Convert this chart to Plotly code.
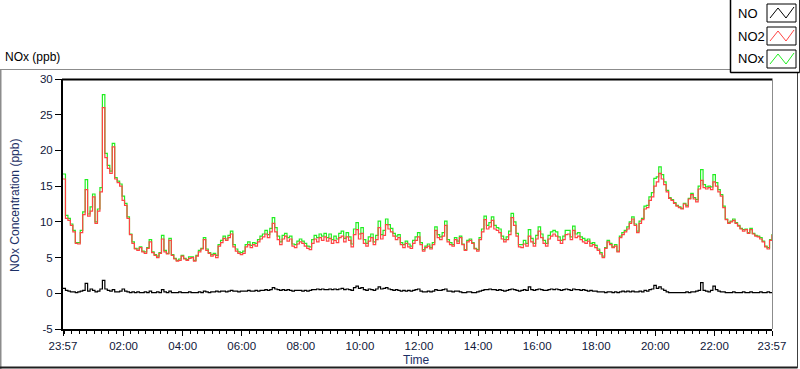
import plotly.graph_objects as go
import pandas as pd

# ---------------- data (5-minute readings starting 23:57) ----------------
start_time = "2024-01-01 23:57"
step_minutes = 5

no = [
    0.7, 0.4, 0.3, 0.2, 0.2, 0.1, 0.2, 0.3, 0.4, 1.4,
    0.3, 0.6, 0.4, 0.2, 0.3, 0.6, 1.8, 0.6, 0.4, 0.3,
    0.5, 0.2, 0.2, 0.3, 0.6, 0.3, 0.2, 0.1, 0.2, 0.1,
    0.2, 0.1, 0.1, 0.2, 0.1, 0.3, 0.1, 0.1, 0.2, 0.1,
    0.5, 0.2, 0.1, 0.3, 0.1, 0.1, 0.1, 0.2, 0.1, 0.1,
    0.1, 0.2, 0.1, 0.1, 0.1, 0.2, 0.1, 0.3, 0.2, 0.1,
    0.2, 0.2, 0.3, 0.2, 0.3, 0.3, 0.2, 0.3, 0.4, 0.3,
    0.3, 0.2, 0.3, 0.3, 0.3, 0.4, 0.3, 0.3, 0.4, 0.3,
    0.4, 0.4, 0.5, 0.4, 0.5, 0.8, 0.6, 0.5, 0.4, 0.5,
    0.4, 0.5, 0.4, 0.3, 0.4, 0.4, 0.4, 0.3, 0.4, 0.3,
    0.4, 0.5, 0.5, 0.6, 0.5, 0.6, 0.5, 0.5, 0.6, 0.5,
    0.6, 0.5, 0.6, 0.7, 0.5, 0.6, 0.5, 0.4, 0.8, 1.0,
    0.7, 0.8, 0.5, 0.4, 0.6, 0.5, 0.4, 0.6, 0.9, 0.6,
    0.7, 0.8, 0.6, 0.5, 0.4, 0.5, 0.4, 0.3, 0.4, 0.3,
    0.4, 0.3, 0.4, 0.5, 0.6, 0.3, 0.2, 0.2, 0.3, 0.2,
    0.3, 0.5, 0.4, 0.4, 0.5, 0.6, 0.3, 0.3, 0.2, 0.3,
    0.3, 0.2, 0.1, 0.1, 0.2, 0.2, 0.1, 0.1, 0.2, 0.3,
    0.4, 0.5, 0.5, 0.6, 0.5, 0.5, 0.4, 0.5, 0.4, 0.3,
    0.4, 0.5, 0.6, 0.5, 0.4, 0.3, 0.4, 0.5, 0.4, 0.9,
    0.5, 0.4, 0.5, 0.6, 0.5, 0.4, 0.4, 0.5, 0.6, 0.5,
    0.6, 0.5, 0.4, 0.5, 0.6, 0.5, 0.4, 0.6, 0.5, 0.5,
    0.4, 0.5, 0.4, 0.3, 0.4, 0.3, 0.3, 0.2, 0.2, 0.2,
    0.1, 0.2, 0.2, 0.1, 0.2, 0.1, 0.2, 0.3, 0.2, 0.3,
    0.2, 0.3, 0.2, 0.2, 0.3, 0.2, 0.4, 0.3, 0.5, 0.6,
    1.1, 0.7, 0.9, 0.6, 0.4, 0.2, 0.1, 0.1, 0.1, 0.1,
    0.1, 0.1, 0.1, 0.2, 0.1, 0.2, 0.2, 0.3, 0.4, 1.5,
    0.4, 0.3, 0.2, 0.4, 1.0, 0.5, 0.3, 0.2, 0.2, 0.1,
    0.1, 0.1, 0.2, 0.1, 0.1, 0.1, 0.2, 0.1, 0.1, 0.2,
    0.1, 0.1, 0.1, 0.2, 0.1, 0.1, 0.2, 0.1, 0.1,
]

no2 = [
    16.0, 10.5, 10.2, 9.5, 8.6, 7.0, 6.9, 8.5, 11.0, 14.5,
    10.8, 11.5, 13.5, 9.8, 11.5, 14.2, 26.0, 19.0, 17.5, 16.8,
    20.5, 16.0, 15.5, 15.0, 13.0, 12.3, 10.5, 8.2, 7.0, 6.2,
    6.0, 6.4, 5.8, 5.6, 6.3, 7.2, 5.7, 5.3, 5.0, 5.6,
    7.6, 5.8, 5.5, 7.4, 5.3, 4.8, 4.5, 4.6, 5.2, 4.8,
    4.6, 4.9, 5.0, 4.5, 5.2, 5.8, 6.2, 7.5, 6.0, 5.6,
    5.2, 5.4, 5.0, 6.6, 7.1, 7.7, 7.4, 7.8, 8.3, 6.5,
    5.9, 5.6, 5.4, 5.6, 6.5, 6.8, 6.4, 6.8, 6.6, 7.2,
    7.6, 7.9, 8.3, 7.8, 8.6, 9.8, 8.6, 7.5, 6.8, 7.6,
    8.0, 7.3, 7.6, 6.6, 6.4, 6.9, 7.2, 7.0, 6.6, 6.3,
    6.1, 7.0, 7.6, 7.2, 7.8, 7.4, 7.9, 7.3, 7.7, 7.0,
    7.4, 7.1, 7.8, 8.0, 7.2, 7.9, 7.4, 6.5, 8.2, 8.9,
    7.6, 8.4, 7.0, 6.6, 7.3, 7.8, 6.8, 7.5, 9.2, 7.6,
    8.1, 9.6, 9.0, 8.6, 8.0, 7.5, 7.8, 6.8, 6.4, 7.0,
    6.5, 6.3, 7.0, 7.4, 7.9, 6.8, 5.9, 6.4, 6.6, 6.2,
    6.8, 8.8, 7.8, 7.5, 8.0, 9.5, 7.2, 6.8, 6.6, 7.5,
    7.0, 7.8, 6.8, 6.0, 7.2, 7.4, 7.0, 6.2, 5.9, 7.5,
    8.6, 10.3, 9.0, 9.3, 10.2, 9.0, 8.8, 8.5, 7.6, 7.2,
    7.5, 8.2, 10.6, 9.5, 8.0, 6.5, 6.4, 6.9, 6.6, 8.0,
    7.2, 6.6, 7.6, 8.7, 7.8, 7.0, 6.6, 7.6, 8.0, 8.3,
    8.0, 7.4, 7.0, 7.5, 8.2, 8.3, 7.5, 8.8, 7.8, 8.0,
    7.5, 7.2, 7.0, 7.3, 6.6, 6.8, 6.4, 6.0, 5.5, 5.0,
    6.3, 7.2, 6.8, 6.4, 6.6, 5.8, 7.8, 8.2, 8.6, 9.0,
    9.8, 10.4, 9.5, 8.5, 9.8, 10.3, 11.8, 12.0, 13.0, 13.5,
    15.0, 15.6, 16.8, 16.0, 15.2, 14.2, 13.3, 13.0, 12.6, 12.2,
    12.0, 11.8, 12.5, 12.1, 13.2, 13.8, 13.2, 12.8, 14.6, 15.8,
    14.8, 14.6, 14.8, 14.5, 15.6, 15.0, 14.2, 13.6, 12.0, 10.3,
    9.8, 10.0, 10.2, 9.8, 9.4, 9.0, 8.7, 8.9, 8.4, 8.9,
    8.3, 8.0, 7.9, 7.6, 7.2, 6.5, 6.2, 7.4, 8.2,
]

nox = [
    16.7, 10.9, 10.5, 9.7, 8.8, 7.1, 7.1, 8.8, 11.4, 15.9,
    11.1, 12.1, 13.9, 10.0, 11.8, 14.8, 27.8, 19.6, 17.9, 17.1,
    21.0, 16.2, 15.7, 15.3, 13.6, 12.6, 10.7, 8.3, 7.2, 6.3,
    6.2, 6.5, 5.9, 5.8, 6.4, 7.5, 5.8, 5.4, 5.2, 5.7,
    8.1, 6.0, 5.6, 7.7, 5.4, 4.9, 4.6, 4.8, 5.3, 4.9,
    4.7, 5.1, 5.1, 4.6, 5.3, 6.0, 6.3, 7.8, 6.2, 5.7,
    5.4, 5.6, 5.3, 6.8, 7.4, 8.0, 7.6, 8.1, 8.7, 6.8,
    6.2, 5.8, 5.7, 5.9, 6.8, 7.2, 6.7, 7.1, 7.0, 7.5,
    8.0, 8.3, 8.8, 8.2, 9.1, 10.6, 9.2, 8.0, 7.2, 8.1,
    8.4, 7.8, 8.0, 6.9, 6.8, 7.3, 7.6, 7.3, 7.0, 6.6,
    6.5, 7.5, 8.1, 7.8, 8.3, 8.0, 8.4, 7.8, 8.3, 7.5,
    8.0, 7.6, 8.4, 8.7, 7.7, 8.5, 7.9, 6.9, 9.0, 9.9,
    8.3, 9.2, 7.5, 7.0, 7.9, 8.3, 7.2, 8.1, 10.1, 8.2,
    8.8, 10.4, 9.6, 9.1, 8.4, 8.0, 8.2, 7.1, 6.8, 7.3,
    6.9, 6.6, 7.4, 7.9, 8.5, 7.1, 6.1, 6.6, 6.9, 6.4,
    7.1, 9.3, 8.2, 7.9, 8.5, 10.1, 7.5, 7.1, 6.8, 7.8,
    7.3, 8.0, 6.9, 6.1, 7.4, 7.6, 7.1, 6.3, 6.1, 7.8,
    9.0, 10.8, 9.5, 9.9, 10.7, 9.5, 9.2, 9.0, 8.0, 7.5,
    7.9, 8.7, 11.2, 10.0, 8.4, 6.8, 6.8, 7.4, 7.0, 8.9,
    7.7, 7.0, 8.1, 9.3, 8.3, 7.4, 7.0, 8.1, 8.6, 8.8,
    8.6, 7.9, 7.4, 8.0, 8.8, 8.8, 7.9, 9.4, 8.3, 8.5,
    7.9, 7.7, 7.4, 7.6, 7.0, 7.1, 6.7, 6.2, 5.7, 5.2,
    6.4, 7.4, 7.0, 6.5, 6.8, 5.9, 8.0, 8.5, 8.8, 9.3,
    10.0, 10.7, 9.7, 8.7, 10.1, 10.5, 12.2, 12.3, 13.5, 14.1,
    16.1, 16.3, 17.7, 16.6, 15.6, 14.4, 13.4, 13.1, 12.7, 12.3,
    12.1, 11.9, 12.6, 12.3, 13.3, 14.0, 13.4, 13.1, 15.0, 17.3,
    15.2, 14.9, 15.0, 14.9, 16.6, 15.5, 14.5, 13.8, 12.2, 10.4,
    9.9, 10.1, 10.4, 9.9, 9.5, 9.1, 8.9, 9.0, 8.5, 9.1,
    8.4, 8.1, 8.0, 7.8, 7.3, 6.6, 6.4, 7.5, 8.3,
]

series_names = ["NO", "NO2", "NOx"]

x_tick_times = [
    "2024-01-01 23:57", "2024-01-02 02:00", "2024-01-02 04:00", "2024-01-02 06:00",
    "2024-01-02 08:00", "2024-01-02 10:00", "2024-01-02 12:00", "2024-01-02 14:00",
    "2024-01-02 16:00", "2024-01-02 18:00", "2024-01-02 20:00", "2024-01-02 22:00",
    "2024-01-02 23:57",
]
x_tick_labels = ["23:57", "02:00", "04:00", "06:00", "08:00", "10:00", "12:00",
                 "14:00", "16:00", "18:00", "20:00", "22:00", "23:57"]
y_tick_values = [-5, 0, 5, 10, 15, 20, 25, 30]
y_tick_labels = ["-5", "0", "5", "10", "15", "20", "25", "30"]

chart_title = "NOx (ppb)"
y_title = "NOx Concentration (ppb)"
x_title = "Time"

# ---------------- styling / layout ----------------
W, H = 800, 369
L, R, T, B = 63, 28, 79, 40
FONT = "Liberation Sans"
TXT = "#10183a"
colors = {"NO": "#000000", "NO2": "#ff4444", "NOx": "#22ee22"}


def px(x):
    return (x - L) / (W - L - R)


def py(y):
    return (H - B - y) / (H - T - B)


times = pd.date_range(start_time, periods=len(no2), freq=f"{step_minutes}min")

fig = go.Figure()
for name, vals in [("NOx", nox), ("NO2", no2), ("NO", no)]:
    fig.add_trace(go.Scatter(
        x=times, y=vals, name=name, mode="lines",
        line=dict(color=colors[name], width=1.2, shape="hv"),
        showlegend=False, hoverinfo="x+y+name",
    ))

shapes = []


def line(x0, y0, x1, y1, color, width=1):
    shapes.append(dict(type="line", xref="paper", yref="paper",
                       x0=px(x0), y0=py(y0), x1=px(x1), y1=py(y1),
                       line=dict(color=color, width=width)))


# outer panel frame
line(0, 69.5, 731, 69.5, "#8c8c8c", 1)
line(0.5, 69.5, 0.5, 369, "#8c8c8c", 2)
line(0, 367.5, 797.5, 367.5, "#202020", 2)
line(797.5, 72, 797.5, 368, "#404040", 1)
# plot frame (top & right)
line(62, 79.5, 772.5, 79.5, "#000000", 2)
line(772.5, 79, 772.5, 329, "#8c8c8c", 1)

# legend box
shapes.append(dict(type="rect", xref="paper", yref="paper",
                   x0=px(730.5), y0=py(72.5), x1=px(799.5), y1=py(-1),
                   fillcolor="white", line=dict(color="#303030", width=1)))
line(730.5, 0, 730.5, 72.5, "#000000", 1.5)
line(730.5, 72.5, 799.5, 72.5, "#000000", 1.5)

legend_rows = [("NO", 13), ("NO2", 36), ("NOx", 59)]
annotations = []
for name, yc in legend_rows:
    top, bot = yc - 9, yc + 9
    shapes.append(dict(type="rect", xref="paper", yref="paper",
                       x0=px(767), y0=py(bot), x1=px(796), y1=py(top),
                       fillcolor="white", line=dict(color="#000000", width=1)))
    pts = [(770, yc + 5), (778, yc - 5), (786, yc + 5), (794, yc - 6)]
    path = "M " + " L ".join(f"{px(a)},{py(b)}" for a, b in pts)
    shapes.append(dict(type="path", xref="paper", yref="paper", path=path,
                       line=dict(color=colors[name], width=1)))
    annotations.append(dict(text=name, xref="paper", yref="paper",
                            x=px(736), y=py(yc), xanchor="left", yanchor="middle",
                            showarrow=False, font=dict(family=FONT, size=13, color="#000000")))

annotations.append(dict(text=chart_title, xref="paper", yref="paper",
                        x=px(3), y=py(57), xanchor="left", yanchor="middle",
                        showarrow=False, font=dict(family=FONT, size=12, color="#000000")))
annotations.append(dict(text=y_title, xref="paper", yref="paper",
                        x=px(15), y=py(205), xanchor="center", yanchor="middle",
                        textangle=-90, showarrow=False,
                        font=dict(family=FONT, size=12, color="#1c2f66")))
annotations.append(dict(text=x_title, xref="paper", yref="paper",
                        x=px(416), y=py(360), xanchor="center", yanchor="middle",
                        showarrow=False, font=dict(family=FONT, size=12, color="#1c2f66")))

fig.update_layout(
    width=W, height=H,
    margin=dict(l=L, r=R, t=T, b=B, pad=0),
    paper_bgcolor="white", plot_bgcolor="white",
    shapes=shapes, annotations=annotations,
    showlegend=False,
    font=dict(family=FONT, size=11, color=TXT),
)
fig.update_xaxes(
    type="date",
    range=[x_tick_times[0], x_tick_times[-1]],
    tickvals=x_tick_times, ticktext=x_tick_labels,
    ticks="outside", ticklen=5, tickcolor="black", tickwidth=1,
    showline=True, linecolor="black", linewidth=2,
    showgrid=False, zeroline=False,
    tickfont=dict(family=FONT, size=11.5, color=TXT),
    minor=dict(ticks="outside", ticklen=3, tickcolor="black", tickwidth=1,
               dtick=15 * 60 * 1000, tick0="2024-01-02 00:00", showgrid=False),
)
fig.update_yaxes(
    range=[-5, 30],
    tickvals=y_tick_values, ticktext=y_tick_labels,
    ticks="outside", ticklen=6, tickcolor="black", tickwidth=1,
    showline=True, linecolor="black", linewidth=2,
    showgrid=False, zeroline=False,
    tickfont=dict(family=FONT, size=11.5, color=TXT),
)

fig.write_html(
    "out.html",
    config={"displayModeBar": False},
    post_script="document.body.style.margin='0px';document.body.style.overflow='hidden';",
)
